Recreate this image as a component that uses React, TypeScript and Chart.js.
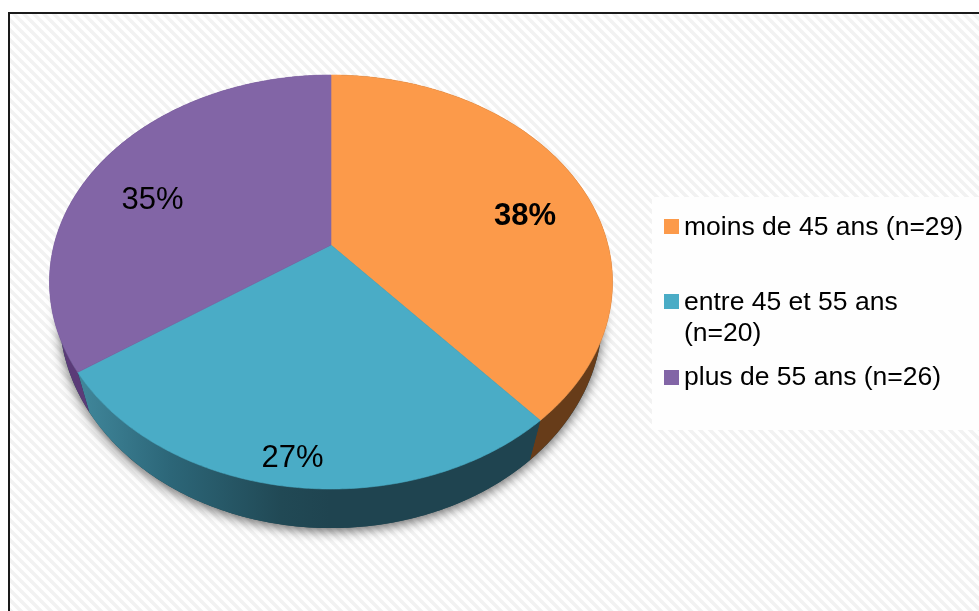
import React, { useEffect, useRef } from "react";
import { Chart, registerables } from "chart.js";

Chart.register(...registerables);

const categories = ["moins de 45 ans (n=29)", "entre 45 et 55 ans (n=20)", "plus de 55 ans (n=26)"];
const legendLines = [["moins de 45 ans (n=29)"], ["entre 45 et 55 ans", "(n=20)"], ["plus de 55 ans (n=26)"]];
const counts = [29, 20, 26];
const percentLabels = ["38%", "27%", "35%"];

const topColors = ["#FC9A4A", "#4AACC6", "#8265A6"];
const sideColors = ["#673C19", "#1F4450", "#5B3B78"];
const labelBold = [true, false, false];
const labelAnchors = [
  { x: 525, y: 225 },
  { x: 292.5, y: 467 },
  { x: 152.5, y: 209 },
];
const legendRows = [
  { box: 219, lines: [235] },
  { box: 294, lines: [310, 341] },
  { box: 370, lines: [385] },
];

const FONT = '"Liberation Sans", Arial, sans-serif';
const APEX = { x: 331, y: 245 };

// Perspective parameters of the top rim and of the bottom rim of the disc
const TOP_RIM = { kx: 277, base: 245, ky: 156.6, persp: -0.1787 };
const BOTTOM_RIM = { kx: 268.2, base: 281.8, ky: 163.9, persp: -0.156 };

function rim(a: number, r: { kx: number; base: number; ky: number; persp: number }) {
  const u = Math.cos(a);
  const v = Math.sin(a);
  const w = 1 + r.persp * v;
  return { x: APEX.x + (r.kx * u) / w, y: (r.base + r.ky * v) / w };
}
function samples(s: number, e: number) {
  const n = Math.max(8, Math.ceil(Math.abs(e - s) / 0.01));
  const out = [] as number[];
  for (let i = 0; i <= n; i++) out.push(s + ((e - s) * i) / n);
  return out;
}

const piePlugin = {
  id: "tiltedPie",
  beforeDraw(chart: any) {
    const { ctx, width, height } = chart;
    const tile = document.createElement("canvas");
    tile.width = 10;
    tile.height = 10;
    const t = tile.getContext("2d")!;
    t.fillStyle = "#ffffff";
    t.fillRect(0, 0, 10, 10);
    t.strokeStyle = "#f2f2f2";
    t.lineWidth = 3.6;
    for (const o of [-10, 0, 10]) {
      t.beginPath();
      t.moveTo(o - 2, -2);
      t.lineTo(o + 12, 12);
      t.stroke();
    }
    ctx.save();
    ctx.fillStyle = "#ffffff";
    ctx.fillRect(0, 0, width, height);
    ctx.fillStyle = ctx.createPattern(tile, "repeat");
    ctx.fillRect(9, 13, width - 9, height - 13);
    ctx.fillStyle = "#fefefe";
    ctx.fillRect(652, 197, width - 652, 233);
    ctx.strokeStyle = "#1a1a1a";
    ctx.lineWidth = 2;
    ctx.beginPath();
    ctx.moveTo(9, height);
    ctx.lineTo(9, 13);
    ctx.lineTo(width, 13);
    ctx.stroke();
    ctx.restore();
  },
  beforeDatasetsDraw(chart: any) {
    const { ctx } = chart;
    const arcs = chart.getDatasetMeta(0).data;
    ctx.save();

    // drop shadow of the disc's lower rim
    ctx.save();
    ctx.shadowColor = "rgba(0,0,0,0.6)";
    ctx.shadowBlur = 12;
    ctx.shadowOffsetY = 3;
    ctx.fillStyle = "#1F4450";
    ctx.beginPath();
    samples(0, Math.PI * 2).forEach((a, i) => {
      const p = rim(a, BOTTOM_RIM);
      if (i) ctx.lineTo(p.x, p.y);
      else ctx.moveTo(p.x, p.y);
    });
    ctx.closePath();
    ctx.fill();
    ctx.restore();

    // side walls
    arcs.forEach((arc: any, i: number) => {
      const angles = samples(arc.startAngle, arc.endAngle);
      ctx.beginPath();
      angles.forEach((a, k) => {
        const p = rim(a, TOP_RIM);
        if (k) ctx.lineTo(p.x, p.y);
        else ctx.moveTo(p.x, p.y);
      });
      angles.slice().reverse().forEach((a) => {
        const q = rim(a, BOTTOM_RIM);
        ctx.lineTo(q.x, q.y);
      });
      ctx.closePath();
      let fill: any = sideColors[i];
      if (i === 1) {
        const g = ctx.createLinearGradient(85, 0, 330, 0);
        g.addColorStop(0, "#3F8599");
        g.addColorStop(0.35, "#2C6678");
        g.addColorStop(0.8, "#214955");
        g.addColorStop(1, "#1F4450");
        fill = g;
      }
      ctx.fillStyle = fill;
      ctx.fill();
    });

    // top faces
    arcs.forEach((arc: any, i: number) => {
      ctx.beginPath();
      ctx.moveTo(APEX.x, APEX.y);
      samples(arc.startAngle, arc.endAngle).forEach((a) => {
        const p = rim(a, TOP_RIM);
        ctx.lineTo(p.x, p.y);
      });
      ctx.closePath();
      ctx.fillStyle = topColors[i];
      ctx.strokeStyle = topColors[i];
      ctx.lineWidth = 0.6;
      ctx.fill();
      ctx.stroke();
    });
    ctx.restore();
    return false;
  },
  afterDraw(chart: any) {
    const { ctx } = chart;
    ctx.save();
    ctx.fillStyle = "#000000";
    ctx.textBaseline = "alphabetic";
    ctx.textAlign = "center";
    percentLabels.forEach((txt, i) => {
      ctx.font = `${labelBold[i] ? "bold " : ""}31px ${FONT}`;
      ctx.fillText(txt, labelAnchors[i].x, labelAnchors[i].y);
    });
    ctx.textAlign = "left";
    ctx.font = `26.5px ${FONT}`;
    legendLines.forEach((lines, i) => {
      ctx.fillStyle = topColors[i];
      ctx.fillRect(664, legendRows[i].box, 15, 15);
      ctx.fillStyle = "#000000";
      lines.forEach((l, k) => ctx.fillText(l, 684, legendRows[i].lines[k]));
    });
    ctx.restore();
  },
};

export default function App() {
  const ref = useRef<HTMLCanvasElement>(null);
  useEffect(() => {
    const chart = new Chart(ref.current!, {
      type: "pie",
      data: {
        labels: categories,
        datasets: [{ data: counts, backgroundColor: topColors, borderWidth: 0 }],
      },
      options: {
        responsive: false,
        animation: false,
        plugins: { legend: { display: false }, tooltip: { enabled: false } },
      },
      plugins: [piePlugin],
    } as any);
    return () => chart.destroy();
  }, []);
  return (
    <div style={{ position: "absolute", left: 0, top: 0, width: 979, height: 611, overflow: "hidden" }}>
      <canvas ref={ref} width={979} height={611} style={{ display: "block" }} />
    </div>
  );
}
